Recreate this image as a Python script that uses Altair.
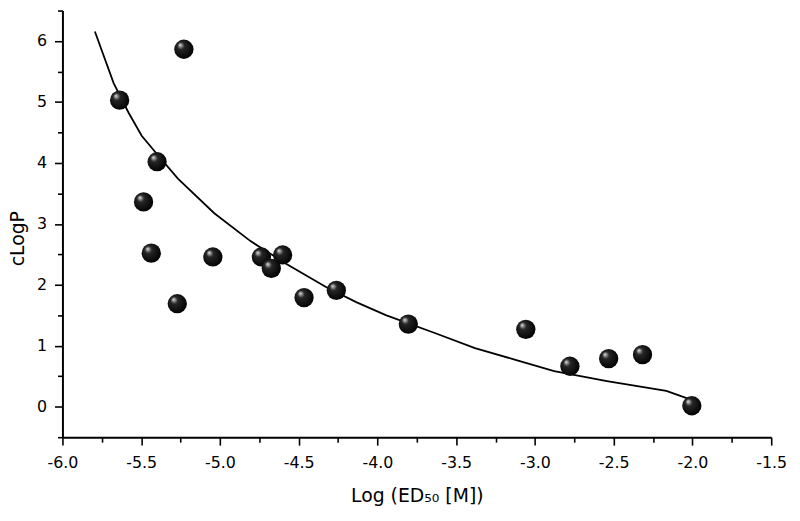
import altair as alt
import pandas as pd

# Measured compounds: log(ED50 [M]) vs cLogP
ed50_log = [-5.637, -5.229, -5.399, -5.485, -5.436, -5.271, -5.045, -4.737, -4.602,
            -4.674, -4.466, -4.261, -3.804, -3.058, -2.778, -2.532, -2.317, -2.004]
clogp = [5.03, 5.865, 4.02, 3.36, 2.52, 1.69, 2.457, 2.457, 2.49,
         2.27, 1.79, 1.91, 1.356, 1.27, 0.664, 0.789, 0.854, 0.016]

# Fitted curve
fit_x = [-5.794, -5.675, -5.580, -5.497, -5.392, -5.267, -5.036, -4.806, -4.575, -4.324,
         -4.135, -3.947, -3.632, -3.381, -3.129, -2.878, -2.543, -2.166, -2.019]
fit_y = [6.156, 5.309, 4.823, 4.445, 4.121, 3.742, 3.175, 2.717, 2.339, 1.960,
         1.717, 1.502, 1.205, 0.962, 0.773, 0.583, 0.421, 0.259, 0.125]

# Axis tick positions (major + minor)
x_ticks = [-6.0, -5.75, -5.5, -5.25, -5.0, -4.75, -4.5, -4.25, -4.0, -3.75,
           -3.5, -3.25, -3.0, -2.75, -2.5, -2.25, -2.0, -1.75, -1.5]
y_ticks = [-0.5, 0, 0.5, 1, 1.5, 2, 2.5, 3, 3.5, 4, 4.5, 5, 5.5, 6, 6.5]

pts = pd.DataFrame({"x": ed50_log, "y": clogp})
fit = pd.DataFrame({"x": fit_x, "y": fit_y})

xscale = alt.Scale(domain=[-6.0, -1.5], nice=False, zero=False)
yscale = alt.Scale(domain=[-0.5, 6.5], nice=False, zero=False)

x_major = "abs(datum.value % 0.5) < 1e-6"
y_major = "abs(datum.value % 1) < 1e-6"

xaxis = alt.Axis(
    values=x_ticks,
    title="Log (ED₅₀ [M])",
    labelExpr=f"{x_major} ? '-' + format(abs(datum.value), '.1f') : ''",
    tickSize={"condition": {"test": x_major, "value": 8}, "value": 5},
    labelPadding=10,
    labelFlush=False,
    labelOverlap=False,
    titleY=65,
    titleBaseline="alphabetic",
)
yaxis = alt.Axis(
    values=y_ticks,
    title="cLogP",
    labelExpr=f"{y_major} ? format(datum.value, 'd') : ''",
    tickSize={"condition": {"test": y_major, "value": 8}, "value": 5},
    labelPadding=8,
    labelFlush=False,
    labelOverlap=False,
    titleX=-35,
    titleY=230,
    titleBaseline="bottom",
)

sphere = alt.RadialGradient(
    gradient="radial",
    x1=0.3, y1=0.27, r1=0.0,
    x2=0.45, y2=0.45, r2=0.58,
    stops=[
        alt.GradientStop(offset=0.0, color="#eeeeee"),
        alt.GradientStop(offset=0.12, color="#9a9a9a"),
        alt.GradientStop(offset=0.32, color="#262626"),
        alt.GradientStop(offset=1.0, color="#000000"),
    ],
)

line = alt.Chart(fit).mark_line(color="black", strokeWidth=1.8).encode(
    x=alt.X("x:Q", scale=xscale, axis=xaxis),
    y=alt.Y("y:Q", scale=yscale, axis=yaxis),
)

points = alt.Chart(pts).mark_circle(size=380, opacity=1, fill=sphere, stroke=None).encode(
    x=alt.X("x:Q", scale=xscale, axis=xaxis),
    y=alt.Y("y:Q", scale=yscale, axis=yaxis),
)

chart = (
    alt.layer(line, points)
    .properties(
        width=716,
        height=431,
        autosize=alt.AutoSizeParams(type="none"),
        padding={"left": 55, "top": 0, "right": 21, "bottom": 74},
    )
    .configure_view(stroke=None)
    .configure_axis(
        grid=False,
        domainColor="black",
        domainWidth=2,
        tickColor="black",
        tickWidth=1.6,
        labelFont="DejaVu Sans",
        labelFontSize=16,
        labelColor="black",
        titleFont="DejaVu Sans",
        titleFontSize=19,
        titleFontWeight="normal",
        titleColor="black",
    )
)

chart.save("out.html", embed_options={"renderer": "svg", "actions": False})
